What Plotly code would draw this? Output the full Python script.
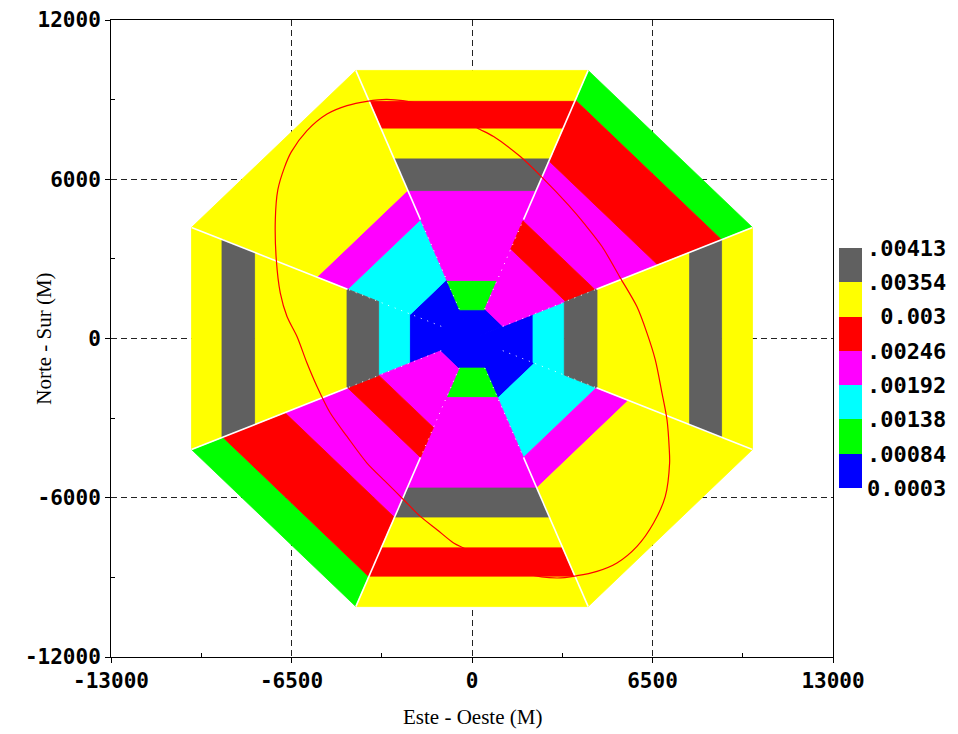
import math
import plotly.graph_objects as go

# ---------------- data ----------------
# colour-bar levels (labels at bin boundaries, bottom to top)
level_labels = ["0.0003", ".00084", ".00138", ".00192", ".00246", "\u00a00.003", ".00354", ".00413"]
level_colors = ["#0000FF", "#00FF00", "#00FFFF", "#FF00FF", "#FF0000", "#FFFF00", "#606060"]

# sector axis directions (deg, counter-clockwise from East)
sector_angles = [0, 45, 90, 135, 180, 225, 270, 315]

# band inner boundaries (m, distance along the sector axis) and band level index
E_edges = [0, 2197, 3324, 4501, 7836, 8988]
E_levels = [0, 2, 6, 5, 6, 5]
NE_edges = [0, 1110, 3370, 4433, 6690, 8985]
NE_levels = [0, 3, 4, 3, 4, 1]
N_edges = [0, 1081, 2184, 5574, 6767, 7897, 8963]
N_levels = [0, 1, 3, 6, 5, 4, 5]
NW_edges = [0, 2215, 4476, 5585]
NW_levels = [0, 2, 3, 5]
W_edges = [0, 2247, 3363, 4501, 7829, 9003]
W_levels = [0, 2, 6, 5, 6, 5]
SW_edges = [0, 1140, 3355, 4480, 6740, 8975]
SW_levels = [0, 3, 4, 3, 4, 1]
S_edges = [0, 1115, 2222, 5634, 6726, 7856, 8986]
S_levels = [0, 1, 3, 6, 5, 4, 5]
SE_edges = [0, 2245, 4480, 5630]
SE_levels = [0, 2, 3, 5]

sector_edges = [E_edges, NE_edges, N_edges, NW_edges, W_edges, SW_edges, S_edges, SE_edges]
sector_levels = [E_levels, NE_levels, N_levels, NW_levels, W_levels, SW_levels, S_levels, SE_levels]

outer_apothem = 10100  # outer edge of the octagon (m)

# red contour line (m), read point by point
line_x = [-3061, -1862, -781, 274, 778, 1739, 2496, 3468, 4080, 4681, 5340, 5942, 6302, 6601,
          6842, 7022, 7105, 7116, 6961, 6539, 5942, 5221, 4501, 3781, 3061, 1919, 767, -302,
          -663, -1260, -1862, -2463, -3061, -3781, -4501, -5103, -5582, -5942, -6302, -6662,
          -6903, -7047, -7083, -6993, -6759, -6507, -5942, -5221, -4501, -3781, -3061]
line_y = [9008, 8839, 8462, 7886, 7607, 6854, 6101, 5035, 4282, 3465, 2286, 1194, 203, -802,
          -2056, -3062, -4192, -4692, -5950, -6952, -7833, -8458, -8775, -8937, -9023, -8861,
          -8410, -7894, -7705, -7204, -6703, -6075, -5446, -4692, -3691, -2809, -1808, -926,
          75, 829, 1710, 2964, 4470, 5600, 6429, 7031, 7833, 8458, 8775, 8937, 9008]

x_ticks = [-13000, -6500, 0, 6500, 13000]
y_ticks = [-12000, -6000, 0, 6000, 12000]
x_minor = [-9750, -3250, 3250, 9750]
y_minor = [-9000, -3000, 3000, 9000]

# ---------------- figure ----------------
fig = go.Figure()
half = math.tan(math.radians(22.5))

polys = {k: ([], []) for k in range(len(level_colors))}
for ang, edges, levels in zip(sector_angles, sector_edges, sector_levels):
    a = math.radians(ang)
    ux, uy = math.cos(a), math.sin(a)
    vx, vy = -uy, ux
    bounds = edges + [outer_apothem]
    for i, lev in enumerate(levels):
        d1, d2 = bounds[i], bounds[i + 1]
        pts = [(d1, -1), (d2, -1), (d2, 1), (d1, 1), (d1, -1)]
        xs, ys = polys[lev]
        for d, s in pts:
            xs.append(d * ux + s * d * half * vx)
            ys.append(d * uy + s * d * half * vy)
        xs.append(None)
        ys.append(None)

for lev, (xs, ys) in polys.items():
    fig.add_trace(go.Scatter(x=xs, y=ys, mode="lines", fill="toself",
                             fillcolor=level_colors[lev],
                             line=dict(color=level_colors[lev], width=0.8),
                             hoverinfo="skip", showlegend=False))

# white seams between sectors
r_out = outer_apothem / math.cos(math.radians(22.5))
sx, sy, dx, dy = [], [], [], []
for ang in sector_angles:
    a = math.radians(ang + 22.5)
    sx += [4850 * math.cos(a), r_out * math.cos(a), None]
    sy += [4850 * math.sin(a), r_out * math.sin(a), None]
    dx += [1200 * math.cos(a), 4850 * math.cos(a), None]
    dy += [1200 * math.sin(a), 4850 * math.sin(a), None]
fig.add_trace(go.Scatter(x=sx, y=sy, mode="lines", line=dict(color="white", width=1.6),
                         hoverinfo="skip", showlegend=False))
fig.add_trace(go.Scatter(x=dx, y=dy, mode="lines",
                         line=dict(color="white", width=1, dash="1px,6px"),
                         hoverinfo="skip", showlegend=False))

# red line
fig.add_trace(go.Scatter(x=line_x, y=line_y, mode="lines",
                         line=dict(color="#FF0000", width=1.2, shape="spline", smoothing=0.8),
                         hoverinfo="skip", showlegend=False))

# colour bar (discrete)
n = len(level_colors)
cscale = []
for i, c in enumerate(level_colors):
    cscale.append([i / n, c])
    cscale.append([(i + 1) / n, c])
fig.add_trace(go.Scatter(
    x=[0], y=[0], mode="markers", hoverinfo="skip", showlegend=False,
    marker=dict(size=0.1, color=[0], cmin=0, cmax=n, colorscale=cscale, showscale=True,
                colorbar=dict(tickvals=list(range(n + 1)), ticktext=level_labels,
                              ticks="", outlinewidth=0, thickness=23,
                              len=240, lenmode="pixels", x=1.0087, xanchor="left",
                              y=0.4535, yanchor="middle", ypad=0, xpad=0,
                              tickfont=dict(family="DejaVu Sans Mono", size=22,
                                            color="black", weight="bold")))))

tickfont = dict(family="DejaVu Sans Mono", size=21, color="black", weight="bold")
axis_common = dict(showgrid=True, gridcolor="#222222", griddash="6px,4px", gridwidth=1,
                   zeroline=False, showline=True, linecolor="black", linewidth=1,
                   mirror=True, ticks="outside", ticklen=5, tickcolor="black",
                   tickfont=tickfont, automargin=False)
fig.update_xaxes(range=[-13000, 13000], tickvals=x_ticks, ticktext=[str(v) for v in x_ticks],
                 minor=dict(tickvals=x_minor, ticks="inside", ticklen=4, tickcolor="black",
                            showgrid=False),
                 **axis_common)
fig.update_yaxes(range=[-12000, 12000], tickvals=y_ticks, ticktext=[str(v) for v in y_ticks],
                 minor=dict(tickvals=y_minor, ticks="inside", ticklen=4, tickcolor="black",
                            showgrid=False),
                 **axis_common)

title_font = dict(family="Liberation Serif", size=21, color="black")
fig.add_annotation(text="Este - Oeste (M)", xref="paper", yref="paper", x=0.5, y=-0.0937,
                   xanchor="center", yanchor="middle", showarrow=False, font=title_font)
fig.add_annotation(text="Norte - Sur (M)", xref="paper", yref="paper", x=-0.0938, y=0.5,
                   xanchor="center", yanchor="middle", textangle=-90, showarrow=False,
                   font=title_font)

fig.update_layout(width=950, height=726, margin=dict(l=103, r=125, t=12, b=77, autoexpand=False),
                  plot_bgcolor="white", paper_bgcolor="white")

fig.write_html("out.html")
